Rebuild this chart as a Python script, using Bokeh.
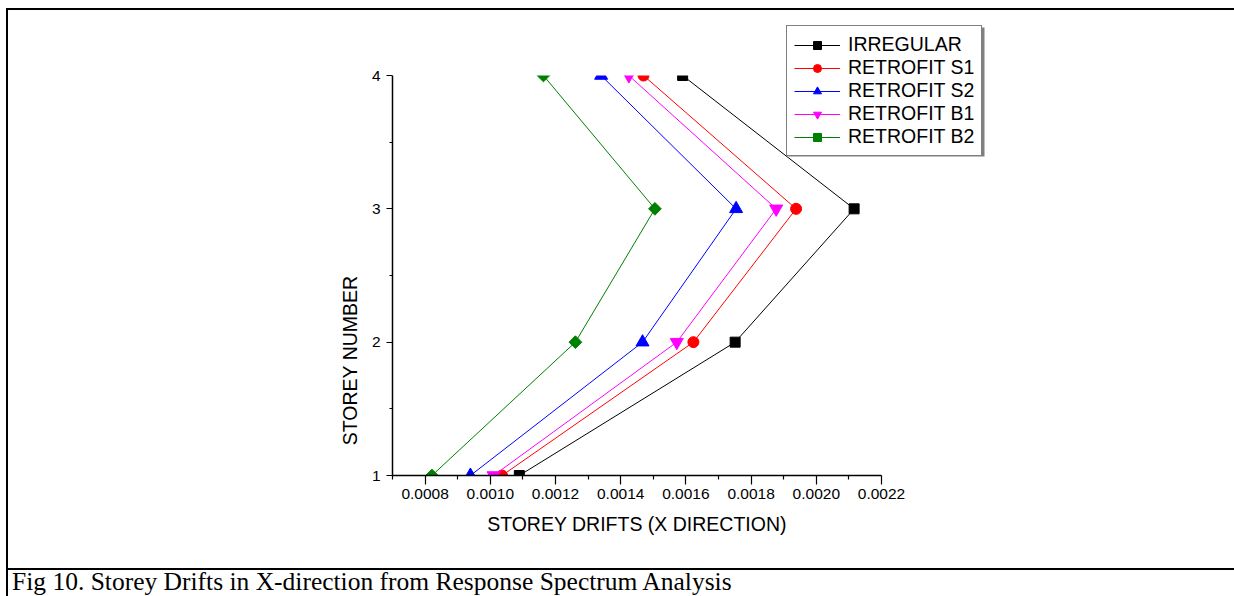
import math
from bokeh.plotting import figure
from bokeh.layouts import column
from bokeh.models import (FixedTicker, PrintfTickFormatter, Legend, LegendItem,
                          BoxAnnotation, Range1d, LinearAxis, Div)
from bokeh.embed import file_html
from bokeh.resources import INLINE

# ---------------- data ----------------
storeys = [1, 2, 3, 4]
irregular = [0.001089, 0.001751, 0.002116, 0.001590]
retrofit_s1 = [0.001036, 0.001623, 0.001938, 0.001470]
retrofit_s2 = [0.000939, 0.001467, 0.001754, 0.001340]
retrofit_b1 = [0.001010, 0.001572, 0.001877, 0.001425]
retrofit_b2 = [0.000821, 0.001261, 0.001505, 0.001163]

series_names = ["IRREGULAR", "RETROFIT S1", "RETROFIT S2", "RETROFIT B1", "RETROFIT B2"]
series_values = [irregular, retrofit_s1, retrofit_s2, retrofit_b1, retrofit_b2]

x_ticks = [0.0008, 0.0010, 0.0012, 0.0014, 0.0016, 0.0018, 0.0020, 0.0022]
x_minor = [0.0007, 0.0009, 0.0011, 0.0013, 0.0015, 0.0017, 0.0019, 0.0021]
y_ticks = [1, 2, 3, 4]
y_minor = [1.5, 2.5, 3.5]
x_limits = (0.0007, 0.0022)
y_limits = (1, 4)

x_title = "STOREY DRIFTS (X DIRECTION)"
y_title = "STOREY NUMBER"
caption = "Fig 10. Storey Drifts in X-direction from Response Spectrum Analysis"

# ---------------- styles ----------------
colors = ["#000000", "#FF0000", "#0000FF", "#FF00FF", "#008000"]
markers = ["square", "circle", "triangle", "inverted_triangle", "square"]
sizes = [10, 11, 13, 13, 9]
angles = [0, 0, 0, 0, math.pi / 4]

W, H = 1234, 596
H1 = 570                                 # chart part; caption strip below
FL, FB = 392, 475                        # plot-area left / bottom (px)
PX_X = (x_limits[1] - x_limits[0]) / 489.0
PX_Y = (y_limits[1] - y_limits[0]) / 400.0
x_end = x_limits[0] + (W - FL) * PX_X
y_end = y_limits[0] + FB * PX_Y


def X(px):
    return x_limits[0] + (px - FL) * PX_X


def Y(py):
    return y_limits[0] + (FB - py) * PX_Y


x_title_pos = (x_limits[0] + x_limits[1]) / 2
y_title_pos = (y_limits[0] + y_limits[1]) / 2

page_css = {
    "background-image": "linear-gradient(#000,#000), linear-gradient(#000,#000), linear-gradient(#000,#000)",
    "background-size": "1228px 2px, 2px %dpx, 1228px 2px" % H1,
    "background-position": "6px 8px, 6px 8px, 6px %dpx" % (H1 - 2),
    "background-repeat": "no-repeat",
}

p = figure(width=W, height=H1, output_backend="svg", toolbar_location=None,
           x_range=Range1d(x_limits[0], x_end), y_range=Range1d(y_limits[0], y_end),
           min_border_left=FL, min_border_right=0,
           min_border_top=0, min_border_bottom=H1 - FB,
           styles=page_css)
p.outline_line_color = None
p.grid.visible = False
p.background_fill_color = None
p.border_fill_color = None

items = []
for name, vals, c, m, s, a in zip(series_names, series_values, colors, markers, sizes, angles):
    r1 = p.line(vals, storeys, line_color=c, line_width=1)
    r2 = p.scatter(vals, storeys, marker=m, size=s, angle=a,
                   fill_color=c, line_color=c)
    items.append(LegendItem(label=name, renderers=[r1, r2]))

# plot-area clipping above the top storey (markers are cut at the frame edge)
p.add_layout(BoxAnnotation(left=x_limits[0], right=X(780), bottom=y_limits[1], top=Y(12),
                           fill_color="white", fill_alpha=1.0, line_color=None))

# main axes
for ax in (p.xaxis[0], p.yaxis[0]):
    ax.axis_line_width = 1.5
    ax.axis_line_color = "black"
    ax.major_tick_line_color = "black"
    ax.minor_tick_line_color = "black"
    ax.major_tick_line_width = 1.2
    ax.minor_tick_line_width = 1.2
    ax.major_tick_in = 0
    ax.minor_tick_in = 0
    ax.major_label_text_font = "Liberation Sans"
    ax.major_label_text_font_size = "15.5px"
    ax.major_label_text_color = "black"

p.xaxis.bounds = x_limits
p.xaxis.ticker = FixedTicker(ticks=x_ticks, minor_ticks=x_minor)
p.xaxis.formatter = PrintfTickFormatter(format="%.4f")
p.xaxis.major_tick_out = 9
p.xaxis.minor_tick_out = 4
p.xaxis.major_label_standoff = 4

p.yaxis.bounds = y_limits
p.yaxis.ticker = FixedTicker(ticks=y_ticks, minor_ticks=y_minor)
p.yaxis.major_tick_out = 6
p.yaxis.minor_tick_out = 3
p.yaxis.major_label_standoff = 6


def text_axis(pos, bounds, text, standoff, orientation="horizontal"):
    return LinearAxis(bounds=bounds, ticker=FixedTicker(ticks=[pos], minor_ticks=[]),
                      major_label_overrides={pos: text},
                      axis_line_color=None, major_tick_line_color=None,
                      minor_tick_line_color=None, major_tick_out=0, major_tick_in=0,
                      minor_tick_out=0, minor_tick_in=0,
                      major_label_text_font="Liberation Sans",
                      major_label_text_font_size="19.5px",
                      major_label_text_color="black", major_label_standoff=standoff,
                      major_label_orientation=orientation)


# axis titles centred on the plotted extent
p.add_layout(text_axis(x_title_pos, x_limits, x_title, 11), "below")
p.add_layout(text_axis(y_title_pos, y_limits, y_title, 19, math.pi / 2), "left")

# legend shadow + legend
p.add_layout(BoxAnnotation(left=X(788), right=X(984), top=Y(27), bottom=Y(156),
                           fill_color="#808080", fill_alpha=1.0, line_color=None))
legend = Legend(items=items, location=(786 - FL, 319),
                border_line_color="black", border_line_width=1,
                background_fill_color="white", background_fill_alpha=1.0,
                label_text_font="Liberation Sans", label_text_font_size="19.5px",
                label_text_color="black",
                glyph_width=46, glyph_height=20, label_height=20,
                label_standoff=8, spacing=0, padding=7, margin=0)
p.add_layout(legend)

# caption strip
cap_html = ('<div style="width:1228px;height:%dpx;margin:0 0 0 6px;border-left:2px solid #000;'
            'box-sizing:border-box;padding:0 0 0 4px;font-family:\'Liberation Serif\';'
            'font-size:25.5px;line-height:23px;color:#000;white-space:nowrap;">'
            '%s</div>') % (H - H1, caption)
cap = Div(text=cap_html, width=W, height=H - H1, margin=(0, 0, 0, 0))

layout = column(p, cap, spacing=0)
open("out.html", "w").write(file_html(layout, INLINE))
